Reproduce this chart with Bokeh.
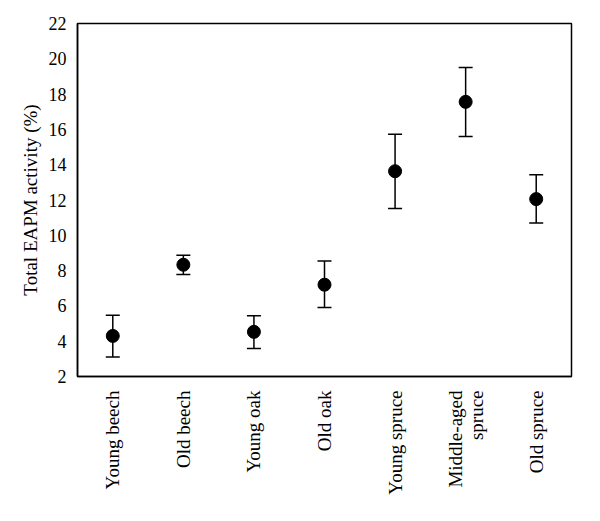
from bokeh.plotting import figure
from bokeh.models import ColumnDataSource, Whisker, TeeHead, FixedTicker
from bokeh.embed import file_html
from bokeh.resources import INLINE
import math

categories = ["Young beech", "Old beech", "Young oak", "Old oak", "Young spruce", "Middle-aged\nspruce", "Old spruce"]
means = [4.3, 8.33, 4.53, 7.2, 13.63, 17.56, 12.05]
upper = [5.47, 8.87, 5.44, 8.55, 15.73, 19.51, 13.43]
lower = [3.1, 7.78, 3.59, 5.91, 11.52, 15.6, 10.69]
y_ticks = [2, 4, 6, 8, 10, 12, 14, 16, 18, 20, 22]

FONT = "Liberation Serif"

src = ColumnDataSource(dict(x=categories, y=means, upper=upper, lower=lower))

p = figure(x_range=categories, y_range=(2, 22), frame_width=494, frame_height=353,
           output_backend="svg", toolbar_location=None,
           min_border_left=77, min_border_top=23, min_border_right=13, min_border_bottom=129)
p.x_range.range_padding = 0

p.grid.visible = False
p.outline_line_color = "black"
p.outline_line_width = 1.5
p.outline_line_alpha = 1.0

w = Whisker(base="x", upper="upper", lower="lower", source=src,
            line_color="black", line_width=1.5,
            upper_head=TeeHead(size=14, line_color="black", line_width=1.5),
            lower_head=TeeHead(size=14, line_color="black", line_width=1.5))
p.add_layout(w)
p.scatter("x", "y", source=src, size=13, color="black")

p.yaxis.ticker = FixedTicker(ticks=y_ticks)
p.yaxis.axis_label = "Total EAPM activity (%)"
p.yaxis.axis_label_text_font = FONT
p.yaxis.axis_label_text_font_style = "normal"
p.yaxis.axis_label_text_font_size = "19px"
p.yaxis.axis_label_text_color = "black"
p.yaxis.axis_label_standoff = 5
p.yaxis.major_label_text_font = FONT
p.yaxis.major_label_text_font_size = "18px"
p.yaxis.major_label_standoff = 5

for ax in (p.xaxis, p.yaxis):
    ax.axis_line_color = "black"
    ax.axis_line_width = 1.5
    ax.major_tick_line_color = None
    ax.minor_tick_line_color = None
    ax.major_label_text_color = "black"

p.xaxis.major_label_orientation = math.pi / 2
p.xaxis.major_label_text_font = FONT
p.xaxis.major_label_text_font_size = "19px"
p.xaxis.major_label_standoff = 8
p.xaxis.major_label_text_line_height = 1.0
p.xaxis.major_label_text_align = "center"

open("out.html", "w").write(file_html(p, INLINE))
